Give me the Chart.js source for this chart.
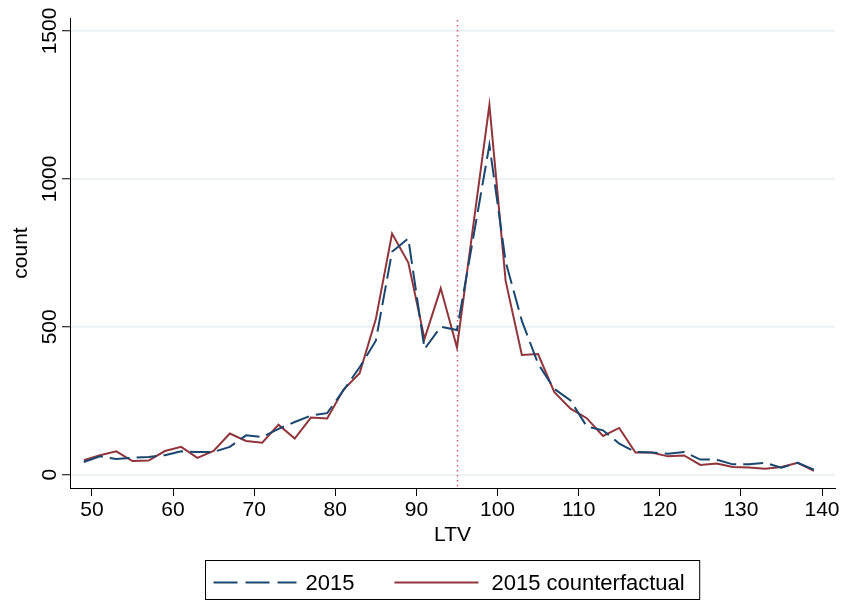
<!DOCTYPE html>
<html>
<head>
<meta charset="utf-8">
<script src="https://cdn.jsdelivr.net/npm/chart.js@4"></script>
<style>
  html, body { margin: 0; padding: 0; background: #fff; }
  canvas { display: block; }
</style>
</head>
<body>
<canvas id="chart" width="845" height="604"></canvas>
<script>
// LTV bins (x) and counts
const ltv = [49, 51, 53, 55, 57, 59, 61, 63, 65, 67, 69, 71, 73, 75, 77, 79, 81, 83, 85, 87, 89, 91, 93,
  95, 97, 99, 101, 103, 105, 107, 109, 111, 113, 115, 117, 119, 121, 123, 125, 127, 129, 131, 133, 135, 137, 139];

const count2015 = [43, 62, 53, 57, 60, 66, 79, 77, 77, 94, 133, 127, 155, 178, 200, 208, 285, 363, 453, 754, 799, 425, 500,
  489, 800, 1115, 720, 520, 375, 290, 251, 163, 150, 105, 77, 75, 71, 77, 51, 51, 35, 35, 40, 24, 40, 17];

const countCounterfactual = [49, 66, 79, 46, 48, 80, 94, 57, 80, 139, 114, 108, 169, 122, 193, 190, 287, 343, 526, 815, 717, 459, 630,
  430, 840, 1250, 655, 405, 408, 279, 223, 191, 131, 158, 75, 75, 62, 65, 33, 38, 26, 24, 20, 26, 40, 13];

const xTicks = [50, 60, 70, 80, 90, 100, 110, 120, 130, 140];
const yTicks = [0, 500, 1000, 1500];
const cutoff = 95;
const seriesNames = ['2015', '2015 counterfactual'];

const BLUE = '#1a476f';
const RED = '#90353b';
const FONT = 'Liberation Sans, Arial, Helvetica, sans-serif';
const DASH = [20, 7];

// dotted vertical line at the cutoff
const cutoffLine = {
  id: 'cutoffLine',
  beforeDatasetsDraw(chart) {
    const {ctx, chartArea, scales} = chart;
    const x = Math.round(scales.x.getPixelForValue(cutoff)) + 0.5;
    ctx.save();
    ctx.strokeStyle = '#d8587c';
    ctx.lineWidth = 1.5;
    ctx.setLineDash([1.5, 3.5]);
    ctx.beginPath();
    ctx.moveTo(x, chartArea.top + 2);
    ctx.lineTo(x, chartArea.bottom);
    ctx.stroke();
    ctx.restore();
  }
};

// y tick labels rotated like the original
const yLabels = {
  id: 'yLabels',
  afterDraw(chart) {
    const {ctx, scales} = chart;
    ctx.save();
    ctx.fillStyle = '#000';
    ctx.font = '21px ' + FONT;
    ctx.textAlign = 'center';
    ctx.textBaseline = 'alphabetic';
    yTicks.forEach(v => {
      const y = scales.y.getPixelForValue(v);
      ctx.save();
      ctx.translate(55.5, y);
      ctx.rotate(-Math.PI / 2);
      ctx.fillText(String(v), 0, 0);
      ctx.restore();
    });
    ctx.restore();
  }
};

// boxed legend under the axis title
const boxLegend = {
  id: 'boxLegend',
  afterDraw(chart) {
    const {ctx, chartArea} = chart;
    ctx.save();
    ctx.font = '22px ' + FONT;
    const w1 = ctx.measureText(seriesNames[0]).width;
    const w2 = ctx.measureText(seriesNames[1]).width;
    const total = 8 + 83 + 9 + w1 + 40 + 84 + 13 + w2 + 15;
    const left = Math.round((chartArea.left + chartArea.right) / 2 - total / 2) + 0.5;
    const top = 560.5, bottom = 599.5, mid = 582.5;

    ctx.strokeStyle = '#000';
    ctx.lineWidth = 1;
    ctx.strokeRect(left, top, total, bottom - top);

    let x = left + 8;
    ctx.lineWidth = 2;
    ctx.strokeStyle = BLUE;
    ctx.setLineDash([24, 8]);
    ctx.beginPath();
    ctx.moveTo(x, mid);
    ctx.lineTo(x + 83, mid);
    ctx.stroke();
    x += 83 + 9;

    ctx.fillStyle = '#000';
    ctx.textAlign = 'left';
    ctx.textBaseline = 'middle';
    ctx.fillText(seriesNames[0], x, mid + 1);
    x += w1 + 40;

    ctx.strokeStyle = RED;
    ctx.setLineDash([]);
    ctx.beginPath();
    ctx.moveTo(x, mid);
    ctx.lineTo(x + 84, mid);
    ctx.stroke();
    x += 84 + 13;
    ctx.fillText(seriesNames[1], x, mid + 1);
    ctx.restore();
  }
};

const ctx = document.getElementById('chart').getContext('2d');
new Chart(ctx, {
  type: 'line',
  data: {
    datasets: [
      {
        label: seriesNames[0],
        data: ltv.map((x, i) => ({x: x, y: count2015[i]})),
        borderColor: BLUE,
        borderWidth: 2,
        borderDash: DASH,
        pointRadius: 0,
        tension: 0,
        fill: false
      },
      {
        label: seriesNames[1],
        data: ltv.map((x, i) => ({x: x, y: countCounterfactual[i]})),
        borderColor: RED,
        borderWidth: 2,
        pointRadius: 0,
        tension: 0,
        fill: false
      }
    ]
  },
  options: {
    responsive: false,
    animation: false,
    devicePixelRatio: 1,
    layout: { padding: { top: 18, right: 10, bottom: 56, left: 0 } },
    plugins: {
      legend: { display: false },
      tooltip: { enabled: false }
    },
    scales: {
      x: {
        type: 'linear',
        min: 47.3,
        max: 141.6,
        afterBuildTicks: s => { s.ticks = xTicks.map(v => ({value: v})); },
        afterFit: s => { s.height = 60; },
        ticks: {
          color: '#000',
          font: { family: FONT, size: 21 },
          padding: 2,
          maxRotation: 0,
          autoSkip: false
        },
        grid: {
          drawOnChartArea: false,
          tickLength: 8,
          tickColor: '#000'
        },
        border: { color: '#000', width: 1 },
        title: {
          display: true,
          text: 'LTV',
          color: '#000',
          font: { family: FONT, size: 21 },
          padding: { top: 0, bottom: 0 }
        }
      },
      y: {
        min: -45,
        max: 1544,
        afterBuildTicks: s => { s.ticks = yTicks.map(v => ({value: v})); },
        afterFit: s => { s.width = 70; },
        ticks: {
          color: 'rgba(0,0,0,0)',
          font: { family: FONT, size: 21 }
        },
        grid: {
          color: '#e8eef2',
          lineWidth: 1.5,
          tickLength: 8,
          tickColor: '#000',
          tickWidth: 1
        },
        border: { color: '#000', width: 1 },
        title: {
          display: true,
          text: 'count',
          color: '#000',
          font: { family: FONT, size: 21 },
          padding: { top: 9, bottom: 0 }
        }
      }
    }
  },
  plugins: [cutoffLine, yLabels, boxLegend]
});
</script>
</body>
</html>
